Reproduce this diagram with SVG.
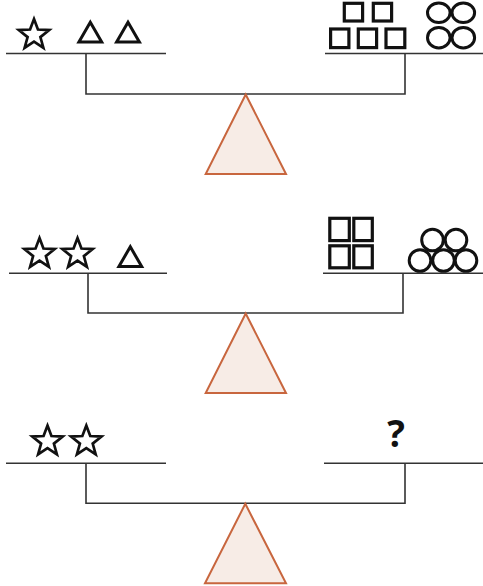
<svg xmlns="http://www.w3.org/2000/svg" xmlns:xlink="http://www.w3.org/1999/xlink" width="483" height="586" viewBox="0 0 483 586">
<defs>
<path id="star" d="M0,-16 L3.94,-5.44 L15.22,-4.94 L6.39,2.08 L9.4,12.94 L0,6.72 L-9.4,12.94 L-6.39,2.08 L-15.22,-4.94 L-3.94,-5.44 Z"/>
<path id="tri" d="M0,-10 L11.4,9.7 L-11.4,9.7 Z"/>
</defs>
<style>
.bg{fill:#ffffff}
.line{stroke:#333333;stroke-width:1.6;fill:none}
.fulcrum{fill:#f7ece6;stroke:#c8663e;stroke-width:2}
.star{fill:#ffffff;stroke:#111111;stroke-width:2.7;stroke-linejoin:miter}
.shape{fill:none;stroke:#111111;stroke-width:3;stroke-linejoin:miter}
.sq{fill:none;stroke:#111111;stroke-width:3.2;stroke-linejoin:miter}
.circ{fill:none;stroke:#111111;stroke-width:3}
.q{font-family:"Open Sans","DejaVu Sans",sans-serif;font-weight:700;font-size:37px;fill:#111111}
</style>
<rect class="bg" x="0" y="0" width="483" height="586"/>

<g id="connectors">
  <path class="line" d="M6,53.5 H166 M325,53.5 H483 M86,53.5 V94 H405 V53.5"/>
  <path class="line" d="M9,273.3 H167 M323,273.3 H483 M88,273.3 V313 H403 V273.3"/>
  <path class="line" d="M6,463.3 H166 M324,463.3 H483 M86,463.3 V503.3 H405 V463.3"/>
</g>

<g id="balance1">
  <g id="fulcrum1"><path class="fulcrum" d="M245.7,94.5 L286,174 L205.7,174 Z"/></g>
  <g id="left1">
    <use href="#star" class="star" transform="translate(34,35)"/>
    <use href="#tri" class="shape" transform="translate(90.3,32.3)"/>
    <use href="#tri" class="shape" transform="translate(128,32.3)"/>
  </g>
  <g id="right1">
    <rect class="sq" x="344.3" y="3.3" width="18.3" height="17.7"/>
    <rect class="sq" x="373.3" y="3.3" width="18.3" height="17.7"/>
    <rect class="sq" x="330.6" y="29" width="18.3" height="18.6"/>
    <rect class="sq" x="358.3" y="29" width="18.3" height="18.6"/>
    <rect class="sq" x="386" y="29" width="18.8" height="18.6"/>
    <ellipse class="circ" cx="438.8" cy="12.8" rx="11.3" ry="9.8"/>
    <ellipse class="circ" cx="463.3" cy="12.8" rx="11.3" ry="9.8"/>
    <ellipse class="circ" cx="438.8" cy="37.7" rx="11.3" ry="10.2"/>
    <ellipse class="circ" cx="463.3" cy="37.7" rx="11.3" ry="10.2"/>
  </g>
</g>

<g id="balance2">
  <g id="fulcrum2"><path class="fulcrum" d="M245.7,313.5 L286,393 L205.7,393 Z"/></g>
  <g id="left2">
    <use href="#star" class="star" transform="translate(39.5,254)"/>
    <use href="#star" class="star" transform="translate(77.5,254)"/>
    <use href="#tri" class="shape" transform="translate(130.3,256.8)"/>
  </g>
  <g id="right2">
    <rect class="sq" x="329.8" y="218.3" width="19.5" height="22.3"/>
    <rect class="sq" x="353.8" y="218.3" width="18.5" height="22.3"/>
    <rect class="sq" x="329.8" y="245.8" width="19.5" height="22"/>
    <rect class="sq" x="353.8" y="245.8" width="18.5" height="22"/>
    <circle class="circ" cx="432.5" cy="240" r="10.8"/>
    <circle class="circ" cx="456" cy="240" r="10.8"/>
    <circle class="circ" cx="420" cy="260.5" r="10.8"/>
    <circle class="circ" cx="443.5" cy="260.5" r="10.8"/>
    <circle class="circ" cx="466" cy="260.5" r="10.8"/>
  </g>
</g>

<g id="balance3">
  <g id="fulcrum3"><path class="fulcrum" d="M245.3,503.8 L286,583.3 L205,583.3 Z"/></g>
  <g id="left3">
    <use href="#star" class="star" transform="translate(47.5,441.5)"/>
    <use href="#star" class="star" transform="translate(86.3,441.5)"/>
  </g>
  <g id="right3">
    <text class="q" x="396" y="447" text-anchor="middle">?</text>
  </g>
</g>
</svg>
